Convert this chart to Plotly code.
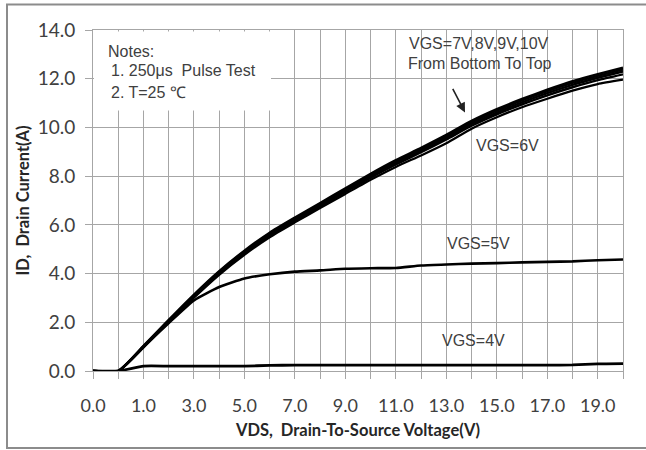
import plotly.graph_objects as go

# Category axis (Excel-style): VDS values
vds = ["0.0", "0.5", "1.0", "2.0", "3.0", "4.0", "5.0", "6.0", "7.0", "8.0", "9.0",
       "10.0", "11.0", "12.0", "13.0", "14.0", "15.0", "16.0", "17.0", "18.0", "19.0", "20.0"]
tick_labels = ["0.0", "", "1.0", "", "3.0", "", "5.0", "", "7.0", "", "9.0",
               "", "11.0", "", "13.0", "", "15.0", "", "17.0", "", "19.0", ""]

id_vgs10 = [0, 0, 1.03, 2.10, 3.14, 4.10, 4.94, 5.68, 6.30, 6.90, 7.50, 8.10, 8.66, 9.16, 9.70, 10.27, 10.75, 11.17, 11.55, 11.90, 12.19, 12.45]
id_vgs9 = [0, 0, 1.01, 2.07, 3.11, 4.07, 4.91, 5.64, 6.26, 6.86, 7.46, 8.06, 8.61, 9.11, 9.65, 10.21, 10.69, 11.11, 11.49, 11.83, 12.12, 12.38]
id_vgs8 = [0, 0, 0.99, 2.04, 3.08, 4.03, 4.86, 5.60, 6.22, 6.81, 7.40, 8.00, 8.55, 9.05, 9.58, 10.14, 10.61, 11.03, 11.41, 11.75, 12.04, 12.30]
id_vgs7 = [0, 0, 0.97, 2.01, 3.04, 3.99, 4.81, 5.55, 6.17, 6.76, 7.35, 7.94, 8.48, 8.98, 9.51, 10.07, 10.54, 10.95, 11.32, 11.65, 11.94, 12.18]
id_vgs6 = [0, 0, 0.97, 2.00, 3.01, 3.95, 4.77, 5.49, 6.10, 6.69, 7.27, 7.85, 8.38, 8.85, 9.35, 9.95, 10.42, 10.83, 11.18, 11.51, 11.78, 11.96]
id_vgs5 = [0, 0, 1.00, 1.97, 2.90, 3.45, 3.80, 3.97, 4.08, 4.13, 4.20, 4.22, 4.23, 4.33, 4.37, 4.41, 4.43, 4.46, 4.48, 4.50, 4.55, 4.58]
id_vgs4 = [0, 0, 0.20, 0.20, 0.20, 0.20, 0.20, 0.23, 0.24, 0.24, 0.24, 0.24, 0.24, 0.24, 0.24, 0.24, 0.24, 0.24, 0.24, 0.25, 0.29, 0.30]

series = [
    ("VGS=4V", id_vgs4, 2.8),
    ("VGS=5V", id_vgs5, 2.6),
    ("VGS=6V", id_vgs6, 2.2),
    ("VGS=7V", id_vgs7, 2.4),
    ("VGS=8V", id_vgs8, 2.4),
    ("VGS=9V", id_vgs9, 2.4),
    ("VGS=10V", id_vgs10, 2.4),
]

W, H = 646, 450
L, R, T, B = 93, 623, 29.5, 371


def px(x):
    return (x - L) / (R - L)


def py(y):
    return (B - y) / (B - T)


fig = go.Figure()
for name, vals, w in series:
    fig.add_trace(go.Scatter(x=vds, y=vals, mode="lines", name=name,
                             line=dict(color="black", width=w, shape="spline", smoothing=0.5)))

grid = "#a6a6a6"
xtickfont = dict(family="Lato", size=18, color="#404040")
ytickfont = dict(family="Lato", size=19, color="#404040")
titlefont = dict(family="Lato", size=16.5, color="#262626")

fig.update_xaxes(type="category", categoryorder="array", categoryarray=vds,
                 range=[0, len(vds) - 1], tickmode="array", tickvals=vds, ticktext=tick_labels,
                 showgrid=True, gridcolor=grid, gridwidth=1,
                 showline=True, linecolor=grid, linewidth=1, mirror=True,
                 ticks="outside", ticklen=7, tickcolor=grid,
                 tickfont=xtickfont, ticklabelstandoff=11,
                 title=dict(text="<b>VDS,  Drain-To-Source Voltage(V)</b>", font=titlefont, standoff=9),
                 zeroline=False)
fig.update_yaxes(range=[0, 14], dtick=2, tickformat=".1f",
                 showgrid=True, gridcolor=grid, gridwidth=1,
                 showline=True, linecolor=grid, linewidth=1, mirror=True,
                 ticks="outside", ticklen=7, tickcolor=grid,
                 tickfont=ytickfont, ticklabelstandoff=6,
                 title=dict(text="<b>ID,  Drain Current(A)</b>", font=titlefont, standoff=3),
                 zeroline=False)

shapes = [
    # white notes box covering the grid
    dict(type="rect", xref="paper", yref="paper", x0=px(94), x1=px(271), y0=py(110), y1=py(31),
         fillcolor="white", line=dict(width=0), layer="above"),
    # outer chart frame
    dict(type="rect", xref="paper", yref="paper", x0=px(7), x1=px(660), y0=py(448), y1=py(4),
         fillcolor="rgba(0,0,0,0)", line=dict(color="#8c8c8c", width=2), layer="above"),
]

afont = dict(family="Liberation Sans", size=16, color="#404040")
ann = []


def label(text, x, y, anchor="center"):
    ann.append(dict(text=text, x=px(x), y=py(y), xref="paper", yref="paper",
                    xanchor=anchor, yanchor="middle", showarrow=False, font=afont))


label("Notes:", 106, 51, "left")
label("1. 250μs  Pulse Test", 109, 70, "left")
label("2. T=25 ℃", 109, 92, "left")
label("VGS=7V,8V,9V,10V", 479, 43)
label("From Bottom To Top", 480, 63)
label("VGS=6V", 507, 145)
label("VGS=5V", 478, 243)
label("VGS=4V", 473, 340)
ann.append(dict(text="", x=px(465), y=py(112), xref="paper", yref="paper",
                ax=-13, ay=-25, showarrow=True, arrowhead=2, arrowsize=1.2,
                arrowwidth=1.6, arrowcolor="#222222"))

fig.update_layout(width=W, height=H, margin=dict(l=L, r=W - R, t=T, b=H - B),
                  plot_bgcolor="white", paper_bgcolor="white", showlegend=False,
                  shapes=shapes, annotations=ann)

fig.write_html("out.html", config={"displayModeBar": False},
               post_script="document.body.style.margin='0';document.body.style.overflow='hidden';")
